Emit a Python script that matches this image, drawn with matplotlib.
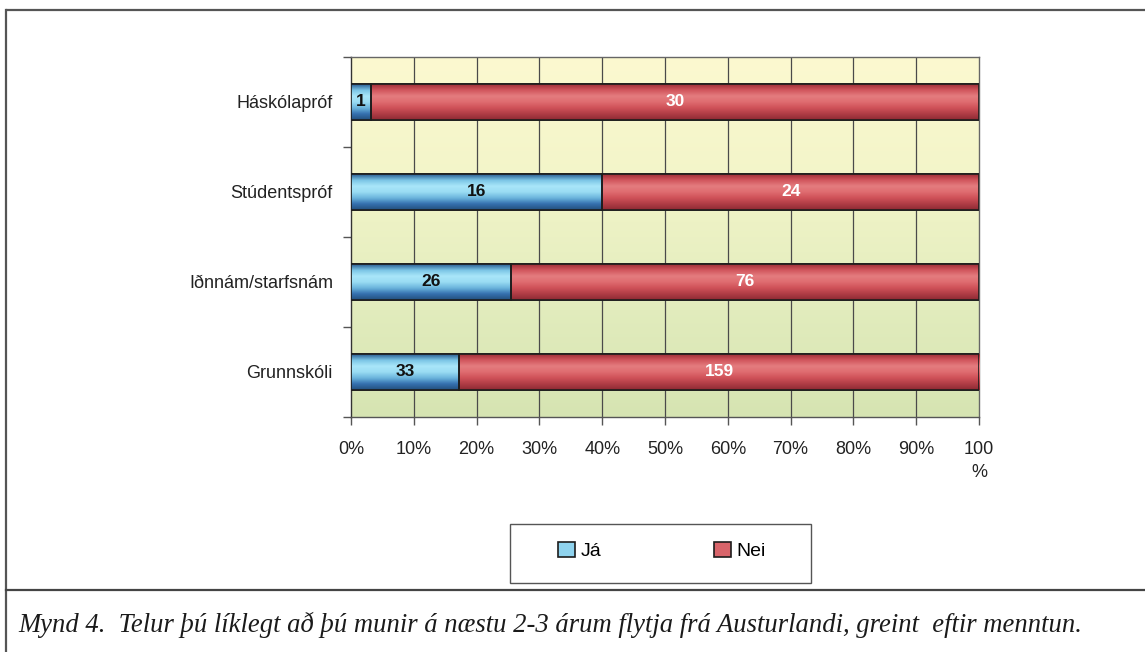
import numpy as np
import matplotlib
matplotlib.use("Agg")
import matplotlib.pyplot as plt
from matplotlib.colors import LinearSegmentedColormap
from matplotlib.patches import Rectangle
from matplotlib.lines import Line2D

# data, top row first
categories = ["Háskólapróf", "Stúdentspróf", "Iðnnám/starfsnám", "Grunnskóli"]
ja = [1, 16, 26, 33]
nei = [30, 24, 76, 159]
series_names = ["Já", "Nei"]
xtick_labels = ["0%", "10%", "20%", "30%", "40%", "50%", "60%", "70%", "80%", "90%", "100\n%"]
caption = ("Mynd 4.  Telur þú líklegt að þú munir á næstu 2-3 árum flytja frá "
           "Austurlandi, greint  eftir menntun.")

plt.rcParams["font.family"] = ["Liberation Sans", "DejaVu Sans"]

ja = np.array(ja, dtype=float)
nei = np.array(nei, dtype=float)
tot = ja + nei
ja_pct = ja / tot * 100
nei_pct = nei / tot * 100

fig = plt.figure(figsize=(11.45, 6.52), dpi=100)
ax = fig.add_axes([351 / 1145, 235 / 652, 628 / 1145, 360 / 652])

y = np.arange(len(categories))
ax.set_xlim(0, 100)
ax.set_ylim(len(categories) - 0.5, -0.5)

# background gradient yellow -> green
bg = LinearSegmentedColormap.from_list("bg", ["#fcf9d0", "#f3f5c9", "#e3edbe", "#d6e4b2"])
ax.imshow(np.linspace(0, 1, 256).reshape(-1, 1), cmap=bg, aspect="auto",
          extent=[0, 100, len(categories) - 0.5, -0.5], zorder=0)

for gx in range(10, 100, 10):
    ax.axvline(gx, color="#4a4a4a", lw=0.9, zorder=1)

blue_cm = LinearSegmentedColormap.from_list(
    "bl", ["#2c5f93", "#7cc6e6", "#a9e6f9", "#9adcf3", "#6bb4dc", "#3671b0", "#23507e"])
red_cm = LinearSegmentedColormap.from_list(
    "rd", ["#9e2f38", "#d2575e", "#e47c7f", "#df6c70", "#cf5158", "#b03d46", "#8e2a33"])

h = 0.4
b1 = ax.barh(y, ja_pct, height=h, color="#8fd3ee", edgecolor="#1d1d1d", lw=1.2, zorder=3)
b2 = ax.barh(y, nei_pct, left=ja_pct, height=h, color="#d8646a", edgecolor="#1d1d1d",
             lw=1.2, zorder=3)


def shade(bars, cmap):
    grad = np.linspace(0, 1, 64).reshape(-1, 1)
    for p in bars:
        x0, y0 = p.get_x(), p.get_y()
        w, hh = p.get_width(), p.get_height()
        im = ax.imshow(grad, cmap=cmap, aspect="auto",
                       extent=[x0, x0 + w, y0 + hh, y0], zorder=3.5)
        im.set_clip_path(p)
        edge = Rectangle((x0, y0), w, hh, fill=False, ec="#1d1d1d", lw=1.2, zorder=4)
        ax.add_patch(edge)


shade(b1, blue_cm)
shade(b2, red_cm)

for i in range(len(categories)):
    ax.text(ja_pct[i] / 2, y[i], f"{int(ja[i])}", ha="center", va="center",
            fontsize=12.5, fontweight="bold", color="#111111", zorder=5)
    ax.text(ja_pct[i] + nei_pct[i] / 2, y[i], f"{int(nei[i])}", ha="center", va="center",
            fontsize=12.5, fontweight="bold", color="white", zorder=5)

ax.set_xticks(np.arange(0, 101, 10))
ax.set_xticklabels(xtick_labels, fontsize=13, color="#222222", va="top", linespacing=1.5)
ax.tick_params(axis="x", length=6, width=1, color="#555555", pad=11)
ax.set_yticks(y)
ax.set_yticklabels(categories, fontsize=13, color="#222222")
ax.set_yticks(np.arange(-0.5, len(categories), 1), minor=True)
ax.tick_params(axis="y", which="major", length=0, pad=13)
ax.tick_params(axis="y", which="minor", length=6, width=1, color="#555555")
for s in ax.spines.values():
    s.set_color("#666666")
    s.set_linewidth(1)
ax.spines["left"].set_color("#333333")
ax.spines["bottom"].set_color("#555555")

# legend box
fig.patches.append(Rectangle((510 / 1145, 1 - 583 / 652), 301 / 1145, 59 / 652,
                             transform=fig.transFigure, fill=False, ec="#555555", lw=1))
handles = [Rectangle((0, 0), 1, 1, fc="#8fd3ee", ec="#1d1d1d", lw=1.2),
           Rectangle((0, 0), 1, 1, fc="#d8646a", ec="#1d1d1d", lw=1.2)]
fig.legend(handles, series_names, loc="center", bbox_to_anchor=(662 / 1145, 1 - 551 / 652),
           ncol=2, frameon=False, fontsize=14, handlelength=0.85, handleheight=0.85,
           handletextpad=0.3, columnspacing=5.8)

# outer frame and caption separator
fig.add_artist(Line2D([7 / 1145, 1], [1 - 10 / 652, 1 - 10 / 652], color="#555555", lw=1.6,
                      transform=fig.transFigure))
fig.add_artist(Line2D([6 / 1145, 6 / 1145], [1 - 10 / 652, 0], color="#555555", lw=1.6,
                      transform=fig.transFigure))
fig.add_artist(Line2D([6 / 1145, 1], [1 - 590 / 652, 1 - 590 / 652], color="#444444", lw=1.6,
                      transform=fig.transFigure))

fig.text(18 / 1145, 1 - 625 / 652, caption, fontsize=19.2, style="italic",
         family=["Liberation Serif", "DejaVu Serif"], color="#1a1a1a", va="center", ha="left")

fig.savefig("out.png", dpi=100, facecolor="white")
